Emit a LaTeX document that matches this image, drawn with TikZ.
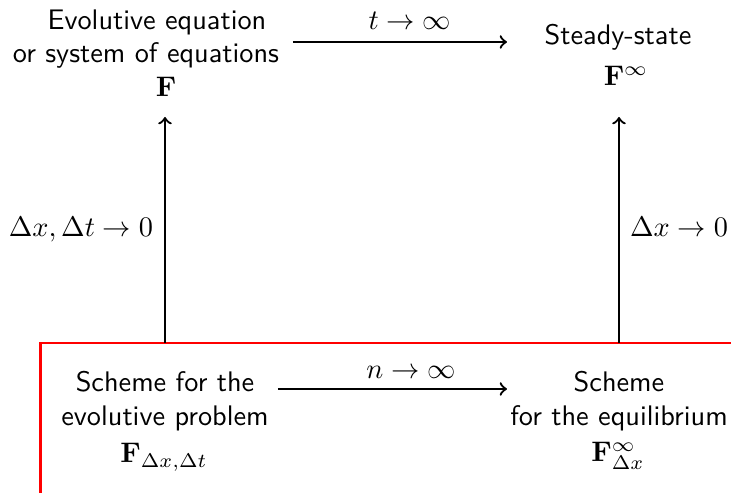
\documentclass[tikz,border=0pt]{standalone}
\begin{document}
\begin{tikzpicture}[x=0.3534pt,y=-0.3534pt,
 txt/.style={anchor=base,inner sep=0pt,font=\sffamily},
 lab/.style={anchor=base,inner sep=0pt},
 arr/.style={->,line width=0.8pt},
 frame/.style={draw=red,line width=0.8pt}]
\clip (0,0) rectangle (731,493);
\draw[frame] (40.5,343) rectangle (780,540);
% top left
\node[txt] (a1) at (157,30) {Evolutive equation};
\node[txt] (a2) at (146,63) {or system of equations};
\node[lab] (a3) at (166,97) {$\mathbf{F}$};
% top right
\node[txt] (b1) at (618,45) {Steady-state};
\node[lab] (b2) at (626,86) {$\mathbf{F}^{\infty}$};
% bottom left
\node[txt] (c1) at (165,392) {Scheme for the};
\node[txt] (c2) at (165,426) {evolutive problem};
\node[lab] (c3) at (164,463) {$\mathbf{F}_{\Delta x,\Delta t}$};
% bottom right
\node[txt] (d1) at (619,392) {Scheme};
\node[txt] (d2) at (619,426) {for the equilibrium};
\node[lab] (d3) at (618,462) {$\mathbf{F}^{\infty}_{\Delta x}$};
% arrow end points
\coordinate (ts) at (293,42);
\coordinate (te) at (507,42);
\coordinate (bs) at (278,389);
\coordinate (be) at (507,389);
\coordinate (ls) at (165,343);
\coordinate (le) at (165,117);
\coordinate (rs) at (619,343);
\coordinate (re) at (619,117);
\draw[arr] (ts) -- (te);
\draw[arr] (bs) -- (be);
\draw[arr] (ls) -- (le);
\draw[arr] (rs) -- (re);
% labels
\node[lab] (lt) at (410,30) {$t\to\infty$};
\node[lab] (ln) at (411,379) {$n\to\infty$};
\node[lab] (ll) at (81,237) {$\Delta x,\Delta t\to 0$};
\node[lab] (lr) at (679,237) {$\Delta x\to 0$};
\end{tikzpicture}
\end{document}
